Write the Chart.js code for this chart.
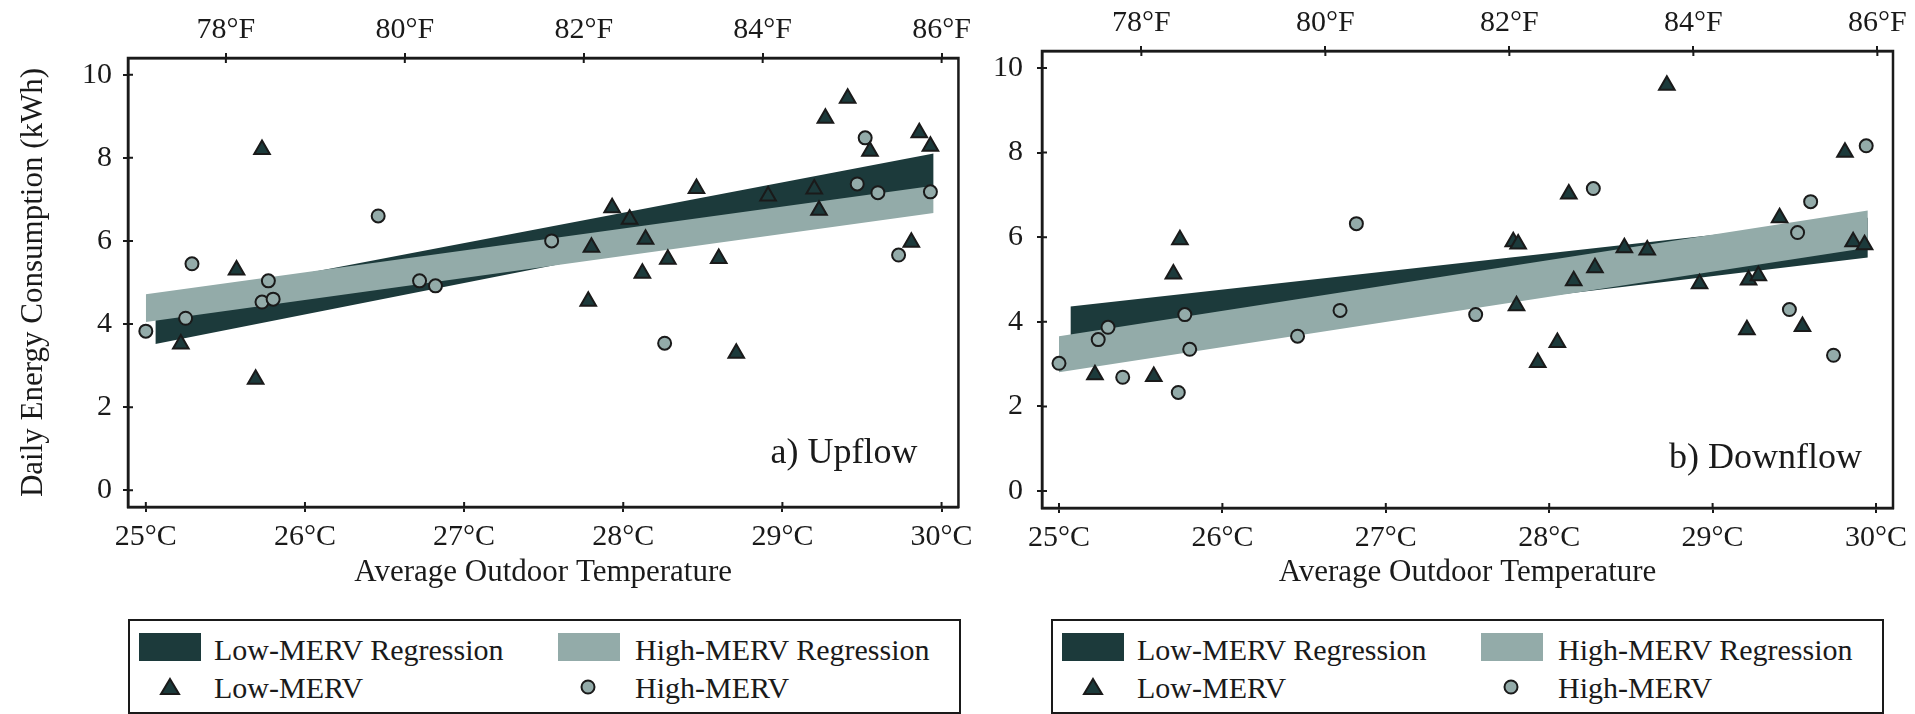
<!DOCTYPE html>
<html lang="en">
<head>
    <meta charset="UTF-8">
    <title>Daily Energy Consumption vs Outdoor Temperature</title>
    <script src="https://cdn.jsdelivr.net/npm/chart.js"></script>
    <style>
        body {
            margin: 0;
            width: 1915px;
            height: 714px;
            background: white;
            position: relative;
            overflow: hidden;
            font-family: "Liberation Serif", "Times New Roman", serif;
            color: #1a1a1a;
        }
        .panel { position: absolute; top: 0; }
        .legend {
            position: absolute;
            top: 619px;
            width: 833px;
            height: 95px;
            box-sizing: border-box;
            border: 2px solid #1a1a1a;
            background: white;
        }
        .legend span, .legend svg { position: absolute; }
        .legend .txt { font-size: 30px; line-height: 30px; white-space: nowrap; }
        .legend .sw { width: 62px; height: 28px; }
    </style>
</head>
<body>
    <div class="panel" style="left:0px;"><canvas id="upflow" width="980" height="600"></canvas></div>
    <div class="panel" style="left:975px;"><canvas id="downflow" width="940" height="600"></canvas></div>
    <div class="legend" id="legendUp" style="left:128px;"></div>
    <div class="legend" id="legendDown" style="left:1051px;"></div>

    <script>
        // axis ticks
        const tempTicksC = [25, 26, 27, 28, 29, 30];
        const tempLabelsC = ['25°C', '26°C', '27°C', '28°C', '29°C', '30°C'];
        const tempTicksF = [78, 80, 82, 84, 86];
        const tempLabelsF = ['78°F', '80°F', '82°F', '84°F', '86°F'];
        const energyTicks = [0, 2, 4, 6, 8, 10];

        const seriesNames = ['Low-MERV Regression', 'High-MERV Regression', 'Low-MERV', 'High-MERV'];

        // a) Upflow - measured points
        const upLowTemp = [25.22, 25.57, 25.69, 25.73, 27.78, 27.80, 27.93, 28.04, 28.12, 28.14, 28.28, 28.46,
                           28.60, 28.71, 28.91, 29.20, 29.23, 29.27, 29.41, 29.55, 29.81, 29.86, 29.93];
        const upLowKwh  = [3.52, 5.30, 2.67, 8.20, 4.55, 5.85, 6.80, 6.52, 5.22, 6.04, 5.56, 7.26,
                           5.58, 3.30, 7.08, 7.25, 6.74, 8.95, 9.43, 8.16, 5.97, 8.60, 8.28];
        const upHighTemp = [25.00, 25.25, 25.29, 25.73, 25.77, 25.80, 26.46, 26.72, 26.82, 27.55, 28.26,
                            29.47, 29.52, 29.60, 29.73, 29.93];
        const upHighKwh  = [3.83, 4.14, 5.45, 4.53, 5.04, 4.60, 6.60, 5.04, 4.92, 6.00, 3.54,
                            7.37, 8.48, 7.16, 5.66, 7.18];
        // regression bands (upper / lower edge at both ends)
        const upLowBandTemp = [25.06, 29.95];
        const upLowBandTop = [4.53, 8.10];
        const upLowBandBottom = [3.52, 7.22];
        const upHighBandTemp = [25.00, 29.95];
        const upHighBandTop = [4.72, 7.33];
        const upHighBandBottom = [4.05, 6.67];

        // b) Downflow - measured points
        const downLowTemp = [25.22, 25.58, 25.70, 25.74, 27.78, 27.80, 27.81, 27.93, 28.05, 28.12, 28.15, 28.28,
                             28.46, 28.60, 28.72, 28.92, 29.21, 29.22, 29.28, 29.41, 29.55, 29.81, 29.86, 29.93];
        const downLowKwh  = [2.75, 2.71, 5.13, 5.94, 5.89, 4.38, 5.84, 3.04, 3.51, 7.02, 4.97, 5.28,
                             5.75, 5.70, 9.59, 4.90, 3.81, 4.99, 5.09, 6.46, 3.89, 8.01, 5.89, 5.82];
        const downHighTemp = [25.00, 25.24, 25.30, 25.39, 25.73, 25.77, 25.80, 26.46, 26.72, 26.82, 27.55,
                              28.27, 29.47, 29.52, 29.60, 29.74, 29.94];
        const downHighKwh  = [3.02, 3.58, 3.87, 2.69, 2.33, 4.17, 3.35, 3.66, 4.27, 6.32, 4.17,
                              7.15, 4.29, 6.11, 6.84, 3.21, 8.16];
        const downLowBandTemp = [25.07, 29.95];
        const downLowBandTop = [4.36, 6.46];
        const downLowBandBottom = [3.26, 5.52];
        const downHighBandTemp = [25.00, 29.95];
        const downHighBandTop = [3.66, 6.63];
        const downHighBandBottom = [2.81, 5.75];

        const ink = '#1a1a1a';
        const darkTeal = '#1c3a3b';
        const lightTeal = '#93aba9';
        const serif = '"Liberation Serif", "Times New Roman", serif';

        Chart.defaults.font.family = serif;
        Chart.defaults.color = ink;

        const pts = (xs, ys) => xs.map((x, i) => ({ x: x, y: ys[i] }));

        // box frame, inner half of the tick marks and the panel label
        const framePlugin = {
            id: 'frame',
            afterDraw(chart, args, opts) {
                const { ctx, chartArea: a, scales } = chart;
                ctx.save();
                ctx.strokeStyle = ink;
                ctx.lineWidth = 2.5;
                ctx.strokeRect(a.left, a.top, a.right - a.left, a.bottom - a.top);
                ctx.lineWidth = 2;
                ctx.beginPath();
                scales.x.ticks.forEach(t => {
                    const px = scales.x.getPixelForValue(t.value);
                    ctx.moveTo(px, a.bottom); ctx.lineTo(px, a.bottom - 5);
                });
                scales.xF.ticks.forEach(t => {
                    const px = scales.xF.getPixelForValue(t.value);
                    ctx.moveTo(px, a.top); ctx.lineTo(px, a.top + 5);
                });
                scales.y.ticks.forEach(t => {
                    const py = scales.y.getPixelForValue(t.value);
                    ctx.moveTo(a.left, py); ctx.lineTo(a.left + 5, py);
                });
                ctx.stroke();
                ctx.fillStyle = ink;
                ctx.font = '36px ' + serif;
                ctx.textAlign = 'right';
                ctx.textBaseline = 'alphabetic';
                ctx.fillText(opts.label, a.right - opts.dx, a.bottom - opts.dy);
                ctx.restore();
            }
        };

        function makeChart(id, p) {
            const axisBits = {
                border: { display: true, color: ink, width: 2.5 },
                grid: { drawOnChartArea: false, color: ink, lineWidth: 2, tickLength: 5 }
            };
            return new Chart(document.getElementById(id).getContext('2d'), {
                type: 'scatter',
                data: {
                    datasets: [
                        { label: seriesNames[0] + ' lower', data: pts(p.lowBandTemp, p.lowBandBottom), showLine: true,
                          borderWidth: 0, pointRadius: 0, fill: false, order: 4 },
                        { label: seriesNames[0], data: pts(p.lowBandTemp, p.lowBandTop), showLine: true,
                          borderWidth: 0, pointRadius: 0, backgroundColor: darkTeal, fill: '-1', order: 4 },
                        { label: seriesNames[1] + ' lower', data: pts(p.highBandTemp, p.highBandBottom), showLine: true,
                          borderWidth: 0, pointRadius: 0, fill: false, order: 3 },
                        { label: seriesNames[1], data: pts(p.highBandTemp, p.highBandTop), showLine: true,
                          borderWidth: 0, pointRadius: 0, backgroundColor: lightTeal, fill: '-1', order: 3 },
                        { label: seriesNames[3], data: pts(p.highTemp, p.highKwh), pointStyle: 'circle',
                          pointRadius: 6.5, backgroundColor: lightTeal, borderColor: ink, borderWidth: 2, order: 2 },
                        { label: seriesNames[2], data: pts(p.lowTemp, p.lowKwh), pointStyle: 'triangle',
                          pointRadius: 9, backgroundColor: darkTeal, borderColor: ink, borderWidth: 2, order: 1 }
                    ]
                },
                options: {
                    responsive: false,
                    animation: false,
                    devicePixelRatio: 1,
                    events: [],
                    layout: { padding: { left: 0, top: 0, right: p.padRight, bottom: 0 } },
                    plugins: {
                        legend: { display: false },
                        tooltip: { enabled: false },
                        frame: { label: p.label, dx: p.labelDx, dy: p.labelDy }
                    },
                    scales: {
                        x: {
                            type: 'linear', position: 'bottom',
                            min: p.cMin, max: p.cMax,
                            ...axisBits,
                            afterBuildTicks: s => { s.ticks = tempTicksC.map(v => ({ value: v })); },
                            afterFit: s => { s.height = p.bottomH; },
                            ticks: { font: { size: 30 }, color: ink, padding: 7,
                                     callback: v => tempLabelsC[tempTicksC.indexOf(v)] },
                            title: { display: true, text: 'Average Outdoor Temperature', color: ink,
                                     font: { size: 31 }, padding: { top: 0, bottom: 9 } }
                        },
                        xF: {
                            type: 'linear', position: 'top',
                            min: p.fMin, max: p.fMax,
                            ...axisBits,
                            afterBuildTicks: s => { s.ticks = tempTicksF.map(v => ({ value: v })); },
                            afterFit: s => { s.height = p.topH; },
                            ticks: { font: { size: 30 }, color: ink, padding: 5,
                                     callback: v => tempLabelsF[tempTicksF.indexOf(v)] }
                        },
                        y: {
                            type: 'linear', position: 'left',
                            min: -0.4, max: 10.4,
                            ...axisBits,
                            afterBuildTicks: s => { s.ticks = energyTicks.map(v => ({ value: v })); },
                            afterFit: s => { s.width = p.leftW; },
                            ticks: { font: { size: 30 }, color: ink, padding: p.yPad },
                            title: { display: p.yTitle, text: 'Daily Energy Consumption (kWh)', color: ink,
                                     font: { size: 31 }, padding: { top: 15, bottom: 0 } }
                        }
                    }
                },
                plugins: [framePlugin]
            });
        }

        makeChart('upflow', {
            lowTemp: upLowTemp, lowKwh: upLowKwh, highTemp: upHighTemp, highKwh: upHighKwh,
            lowBandTemp: upLowBandTemp, lowBandTop: upLowBandTop, lowBandBottom: upLowBandBottom,
            highBandTemp: upHighBandTemp, highBandTop: upHighBandTop, highBandBottom: upHighBandBottom,
            cMin: 24.888, cMax: 30.106, fMin: 76.906, fMax: 86.188,
            padRight: 12, leftW: 128, topH: 58, bottomH: 93, yPad: 11, yTitle: true,
            label: 'a) Upflow', labelDx: 41, labelDy: 44
        });

        makeChart('downflow', {
            lowTemp: downLowTemp, lowKwh: downLowKwh, highTemp: downHighTemp, highKwh: downHighKwh,
            lowBandTemp: downLowBandTemp, lowBandTop: downLowBandTop, lowBandBottom: downLowBandBottom,
            highBandTemp: downHighBandTemp, highBandTop: downHighBandTop, highBandBottom: downHighBandBottom,
            cMin: 24.896, cMax: 30.104, fMin: 76.92, fMax: 86.17,
            padRight: 22, leftW: 67, topH: 51, bottomH: 92, yPad: 14, yTitle: false,
            label: 'b) Downflow', labelDx: 31, labelDy: 40
        });

        // legend boxes under each panel
        function buildLegend(id) {
            const box = document.getElementById(id);
            box.innerHTML =
                '<span class="sw" style="left:9px;top:12px;background:' + darkTeal + '"></span>' +
                '<span class="txt" style="left:84px;top:14px">' + seriesNames[0] + '</span>' +
                '<span class="sw" style="left:428px;top:12px;background:' + lightTeal + '"></span>' +
                '<span class="txt" style="left:505px;top:14px">' + seriesNames[1] + '</span>' +
                '<svg width="22" height="20" style="left:29px;top:56px"><polygon points="11,2 20,17 2,17" fill="' + darkTeal + '" stroke="' + ink + '" stroke-width="2"/></svg>' +
                '<span class="txt" style="left:84px;top:52px">' + seriesNames[2] + '</span>' +
                '<svg width="20" height="20" style="left:448px;top:56px"><circle cx="10" cy="10" r="6.5" fill="' + lightTeal + '" stroke="' + ink + '" stroke-width="2"/></svg>' +
                '<span class="txt" style="left:505px;top:52px">' + seriesNames[3] + '</span>';
        }
        buildLegend('legendUp');
        buildLegend('legendDown');
    </script>
</body>
</html>
